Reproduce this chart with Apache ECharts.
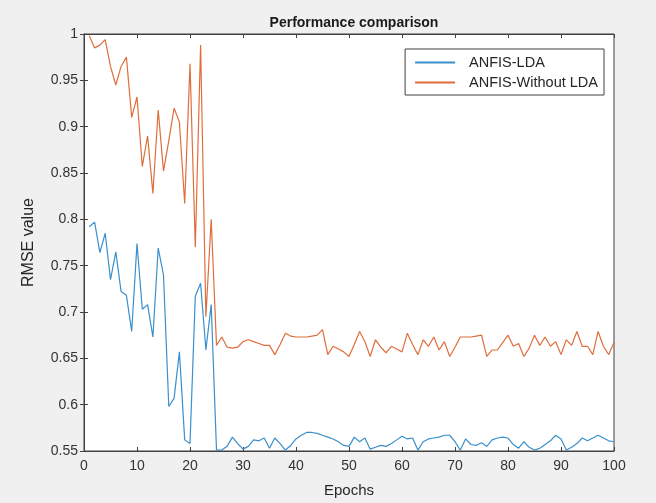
<!DOCTYPE html>
<html>
<head>
<meta charset="utf-8">
<script src="https://cdn.jsdelivr.net/npm/echarts@6/dist/echarts.min.js"></script>
<style>
  html, body { margin: 0; padding: 0; background: #f0f0f0; }
  #chart { width: 656px; height: 503px; }
</style>
</head>
<body>
<div id="chart"></div>
<script>
// epochs 1..100
var epochs = [];
for (var i = 1; i <= 100; i++) epochs.push(i);

var anfisLda = [
  0.792, 0.797, 0.764, 0.785, 0.735, 0.765, 0.722, 0.718, 0.679, 0.774,
  0.703, 0.708, 0.673, 0.769, 0.740, 0.598, 0.607, 0.657, 0.562, 0.558,
  0.717, 0.731, 0.659, 0.708, 0.551, 0.551, 0.555, 0.565, 0.558, 0.552,
  0.555, 0.562, 0.561, 0.564, 0.553, 0.564, 0.558, 0.551, 0.556, 0.563,
  0.567, 0.570, 0.570, 0.569, 0.567, 0.565, 0.563, 0.560, 0.556, 0.555,
  0.565, 0.560, 0.564, 0.552, 0.554, 0.556, 0.555, 0.558, 0.562, 0.566,
  0.563, 0.564, 0.551, 0.560, 0.563, 0.564, 0.565, 0.567, 0.567, 0.560,
  0.551, 0.563, 0.557, 0.556, 0.559, 0.555, 0.562, 0.564, 0.565, 0.564,
  0.557, 0.553, 0.560, 0.554, 0.551, 0.553, 0.557, 0.561, 0.567, 0.563,
  0.551, 0.554, 0.558, 0.564, 0.561, 0.564, 0.567, 0.564, 0.561, 0.560
];

var anfisWithoutLda = [
  0.998, 0.985, 0.988, 0.994, 0.965, 0.945, 0.965, 0.975, 0.910, 0.932,
  0.857, 0.890, 0.828, 0.918, 0.852, 0.885, 0.920, 0.905, 0.817, 0.968,
  0.770, 0.988, 0.695, 0.800, 0.664, 0.673, 0.662, 0.661, 0.662, 0.668,
  0.670, 0.668, 0.666, 0.664, 0.664, 0.654, 0.665, 0.677, 0.674, 0.673,
  0.673, 0.673, 0.674, 0.675, 0.681, 0.654, 0.663, 0.660, 0.657, 0.652,
  0.665, 0.679, 0.668, 0.652, 0.670, 0.662, 0.656, 0.663, 0.660, 0.657,
  0.677, 0.665, 0.654, 0.670, 0.663, 0.673, 0.659, 0.668, 0.652, 0.662,
  0.673, 0.673, 0.673, 0.674, 0.675, 0.652, 0.659, 0.659, 0.667, 0.675,
  0.663, 0.666, 0.652, 0.661, 0.675, 0.664, 0.673, 0.663, 0.668, 0.654,
  0.670, 0.664, 0.679, 0.663, 0.663, 0.654, 0.679, 0.663, 0.654, 0.667
];

var seriesNames = ["ANFIS-LDA", "ANFIS-Without LDA"];

function pairs(ys) {
  return epochs.map(function (x, k) { return [x, ys[k]]; });
}

var axisColor = "#404040";
var font = "Liberation Sans, Arial, sans-serif";

var chart = echarts.init(document.getElementById("chart"));
var option = {
  backgroundColor: "#f0f0f0",
  animation: false,
  title: {
    text: "Performance comparison",
    left: 349,
    textAlign: "center",
    top: 11,
    textStyle: { fontFamily: font, fontSize: 14, fontWeight: "bold", color: "#1a1a1a" }
  },
  legend: {
    data: seriesNames,
    orient: "vertical",
    right: 52,
    top: 49,
    backgroundColor: "#ffffff",
    borderColor: axisColor,
    borderWidth: 1,
    padding: [6, 6, 5, 10],
    itemGap: 5,
    itemWidth: 40,
    itemHeight: 2,
    icon: "rect",
    textStyle: { fontFamily: font, fontSize: 14.5, color: "#262626", lineHeight: 15, padding: [0, 0, 0, 9] }
  },
  grid: {
    left: 84, right: 42, top: 34, bottom: 52,
    show: true, backgroundColor: "#ffffff", borderColor: axisColor, borderWidth: 1
  },
  xAxis: [{
    type: "value", min: 0, max: 100, interval: 10,
    name: "Epochs", nameLocation: "middle", nameGap: 32,
    nameTextStyle: { fontFamily: font, fontSize: 15, color: "#262626" },
    axisLine: { lineStyle: { color: axisColor } },
    axisTick: { inside: true, length: 4, lineStyle: { color: axisColor } },
    axisLabel: { fontFamily: font, fontSize: 14, color: "#333", margin: 8 },
    splitLine: { show: false }
  }, {
    type: "value", position: "top", min: 0, max: 100, interval: 10,
    axisLine: { lineStyle: { color: axisColor } },
    axisTick: { inside: true, length: 4, lineStyle: { color: axisColor } },
    axisLabel: { show: false }, splitLine: { show: false }
  }],
  yAxis: [{
    type: "value", min: 0.55, max: 1, interval: 0.05,
    name: "RMSE value", nameLocation: "middle", nameGap: 47,
    nameTextStyle: { fontFamily: font, fontSize: 16, color: "#262626" },
    axisLine: { show: true, lineStyle: { color: axisColor } },
    axisTick: { show: true, inside: true, length: 4, lineStyle: { color: axisColor } },
    axisLabel: { fontFamily: font, fontSize: 14, color: "#333", margin: 6 },
    splitLine: { show: false }
  }, {
    type: "value", position: "right", min: 0.55, max: 1, interval: 0.05,
    axisLine: { show: true, lineStyle: { color: axisColor } },
    axisTick: { show: true, inside: true, length: 4, lineStyle: { color: axisColor } },
    axisLabel: { show: false }, splitLine: { show: false }
  }],
  series: [
    {
      name: seriesNames[0], type: "line", data: pairs(anfisLda),
      showSymbol: false, symbol: "none",
      lineStyle: { color: "#3a8fcc", width: 1.2 },
      itemStyle: { color: "#3a8fcc" }
    },
    {
      name: seriesNames[1], type: "line", data: pairs(anfisWithoutLda),
      showSymbol: false, symbol: "none",
      lineStyle: { color: "#e06d3c", width: 1.2 },
      itemStyle: { color: "#e06d3c" }
    }
  ]
};
chart.setOption(option);
</script>
</body>
</html>
